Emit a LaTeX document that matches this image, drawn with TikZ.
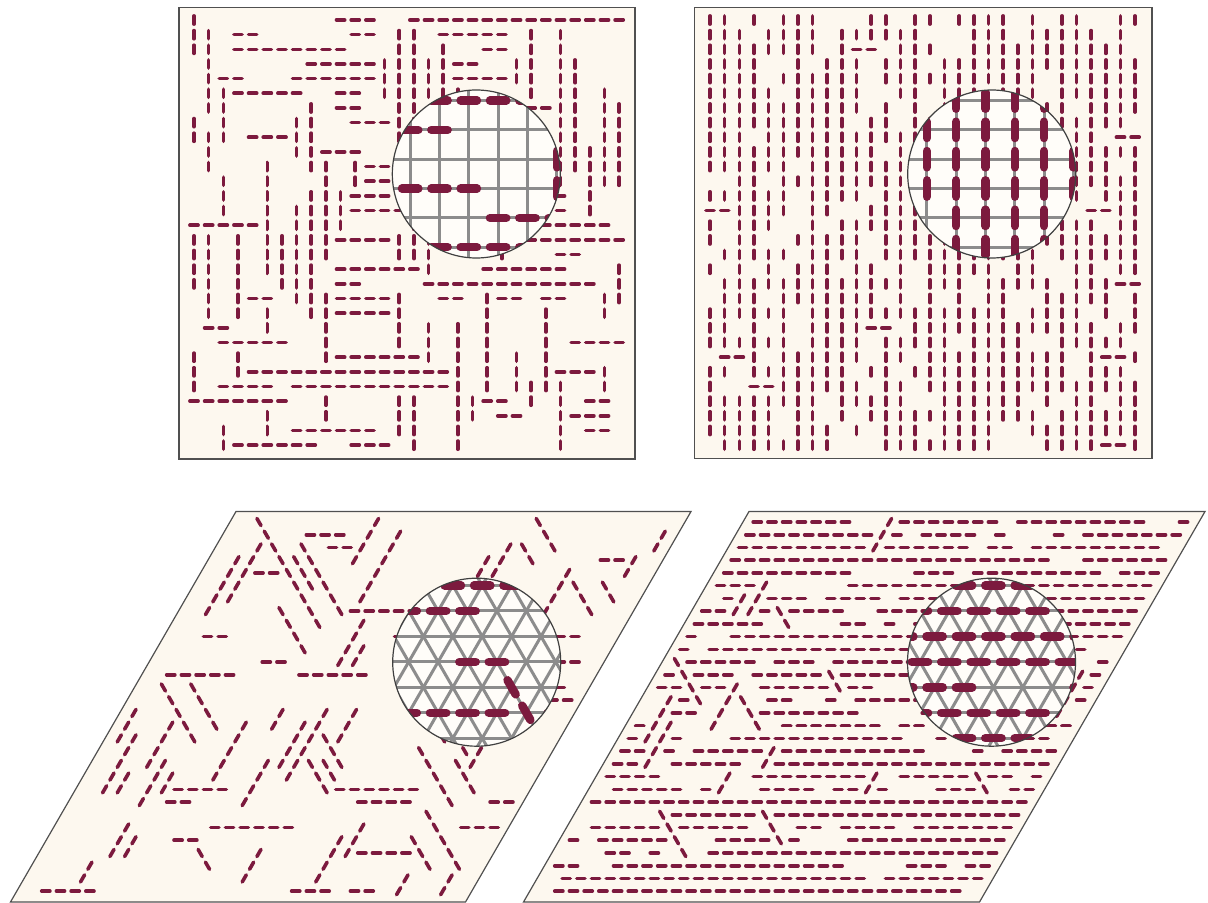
\documentclass[tikz,border=0pt]{standalone}
\definecolor{rod}{RGB}{124,26,62}
\definecolor{panelbg}{RGB}{253,248,239}
\definecolor{insetbg}{RGB}{255,253,249}
\definecolor{gridgray}{RGB}{140,140,140}
\definecolor{framegray}{RGB}{80,80,80}
\tikzset{
  rodline/.style={draw=rod,line width=1.8pt,line cap=round},
  rodthick/.style={draw=rod,line width=4.2pt,line cap=round},
  latline/.style={draw=gridgray,line width=1.5pt},
  panelframe/.style={draw=framegray,line width=0.6pt,fill=panelbg},
  lens/.style={draw=black!75,line width=0.6pt}
}
\makeatletter
\newcount\RSseed \global\RSseed=20231
\newcount\RSa \newcount\RSb
\newcount\RSi \newcount\RSj \newcount\RSx \newcount\RSy
\newcount\RSt \newcount\RSL \newcount\RSd \newcount\RSdi \newcount\RSdj
\newcount\RSk \newcount\RSr \newcount\RSs
\newif\ifRSok
\def\RSN{30}
\def\RSNm{29}
\def\RSnext{%
  \RSa=\RSseed \divide\RSa by 127773\relax
  \RSb=\RSa \multiply\RSb by -127773\relax
  \advance\RSb by \RSseed
  \multiply\RSb by 16807\relax
  \multiply\RSa by 2836\relax
  \advance\RSb by -\RSa
  \ifnum\RSb<1 \advance\RSb by 2147483647\relax\fi
  \global\RSseed=\RSb}
\def\RSrand#1#2{\RSnext #2=\RSseed \divide#2 by #1\relax \multiply#2 by -#1\relax \advance#2 by \RSseed}
\def\RSsetdir{%
  \ifcase\RSd\or \RSdi=1 \RSdj=0 \or \RSdi=0 \RSdj=1 \else \RSdi=1 \RSdj=1 \fi}
\def\RStry#1{%
  \begingroup
  \RSsetdir
  \RSoktrue
  \RSx=\RSi \RSy=\RSj \RSt=0
  \loop
    \ifnum\RSx>\RSNm\relax \RSokfalse\fi
    \ifnum\RSy>\RSNm\relax \RSokfalse\fi
    \ifRSok
      \expandafter\ifx\csname RS@#1@\the\RSx @\the\RSy\endcsname\relax\else\RSokfalse\fi
    \fi
    \advance\RSt by 1
    \advance\RSx by \RSdi \advance\RSy by \RSdj
  \ifnum\RSt<\RSL\repeat
  \ifRSok
    \RSx=\RSi \RSy=\RSj \RSt=0
    \loop
      \expandafter\xdef\csname RS@#1@\the\RSx @\the\RSy\endcsname{\the\RSd}%
      \advance\RSt by 1
      \advance\RSx by \RSdi \advance\RSy by \RSdj
    \ifnum\RSt<\RSL\repeat
  \fi
  \endgroup}
\def\RSrsa#1#2#3#4#5#6{%
  \RSk=#2\relax
  \loop
    \RSrand{\RSN}{\RSi}\RSrand{\RSN}{\RSj}%
    \RSrand{#3}{\RSd}\advance\RSd by #4\relax
    \RSrand{#6}{\RSL}\advance\RSL by #5\relax
    \RStry{#1}%
    \advance\RSk by -1
  \ifnum\RSk>0 \repeat}
\def\RSfill#1#2#3#4{%
  \RSr=0
  \loop
    {\RSs=0 \RSt=0
     \loop
       \ifnum#2=1 \RSx=\RSt \RSy=\RSr \else \RSx=\RSr \RSy=\RSt \fi
       \expandafter\ifx\csname RS@#1@\the\RSx @\the\RSy\endcsname\relax
         \RSrand{1000}{\RSL}%
         \ifnum\RSs=1 \RSd=#3\relax \else \RSd=#4\relax \fi
         \ifnum\RSL<\RSd
           \expandafter\xdef\csname RS@#1@\the\RSx @\the\RSy\endcsname{#2}%
           \RSs=1
         \else \RSs=0 \fi
       \else \RSs=0 \fi
       \advance\RSt by 1
     \ifnum\RSt<\RSN\relax\repeat}%
    \advance\RSr by 1
  \ifnum\RSr<\RSN\relax\repeat}
% own loop for drawing
\def\RSloop#1\RSrepeat{\def\RSbody{#1}\RSiterate}
\def\RSiterate{\RSbody\let\RSnextstep\RSiterate\else\let\RSnextstep\relax\fi\RSnextstep}
\let\RSrepeat\fi
\def\RSgeom#1#2#3#4#5#6#7{\def\RSXo{#1}\def\RSYo{#2}\def\RSax{#3}\def\RSbx{#4}\def\RSby{#5}\def\RSCx{#6}\def\RSCy{#7}}
\def\RSdirsSq{\def\RSuxA{4.1}\def\RSuyA{0}\def\RSuxB{0}\def\RSuyB{4.1}\def\RSuxC{0}\def\RSuyC{0}}
\def\RSdirsTri{\def\RSuxA{4.1}\def\RSuyA{0}\def\RSuxB{-2.05}\def\RSuyB{3.5507}\def\RSuxC{2.05}\def\RSuyC{3.5507}}
\def\RSdash#1#2{%
  \pgfmathsetmacro\RSpx{\RSXo+\the\RSt*\RSax+\the\RSr*(\RSbx)}%
  \pgfmathsetmacro\RSpy{\RSYo+\the\RSr*\RSby}%
  \ifcase\RSd\or\let\RSux\RSuxA\let\RSuy\RSuyA\or\let\RSux\RSuxB\let\RSuy\RSuyB\else\let\RSux\RSuxC\let\RSuy\RSuyC\fi
  \RSoktrue
  \ifnum#2=1
    \dimen@=\RSpx pt\advance\dimen@ by -\RSCx pt
    \ifdim\dimen@>50pt \RSokfalse\fi
    \ifdim\dimen@<-50pt \RSokfalse\fi
    \dimen@=\RSpy pt\advance\dimen@ by -\RSCy pt
    \ifdim\dimen@>50pt \RSokfalse\fi
    \ifdim\dimen@<-50pt \RSokfalse\fi
  \fi
  \ifRSok
    \pgfmathsetmacro\RSxa{\RSpx-(\RSux)}\pgfmathsetmacro\RSxb{\RSpx+(\RSux)}%
    \pgfmathsetmacro\RSya{\RSpy-(\RSuy)}\pgfmathsetmacro\RSyb{\RSpy+(\RSuy)}%
    \path[#1] (\RSxa,\RSya) -- (\RSxb,\RSyb);
  \fi}
\def\RSdraw#1#2#3{%
  \RSr=0
  \RSloop
    {\RSt=0
     \RSloop
       \expandafter\ifx\csname RS@#1@\the\RSt @\the\RSr\endcsname\relax\else
         \RSd=\csname RS@#1@\the\RSt @\the\RSr\endcsname\relax
         \RSdash{#2}{#3}%
       \fi
       \advance\RSt by 1
     \ifnum\RSt<\RSN\relax\RSrepeat}%
    \advance\RSr by 1
  \ifnum\RSr<\RSN\relax\RSrepeat}
\newcommand\RSinsetSq[2]{%
  \begin{scope}
    \clip (\RSCx,\RSCy) circle [radius=#2];
    \fill[insetbg] (\RSCx,\RSCy) circle [radius=#2];
    \begin{scope}[shift={(\RSCx,\RSCy)},scale=2,shift={(-\RSCx,-\RSCy)}]
      \foreach \k in {-3,...,33}{%
        \draw[latline] ({\RSXo+(\k)*\RSax},{\RSYo-3*\RSby}) -- ({\RSXo+(\k)*\RSax},{\RSYo+33*\RSby});
        \draw[latline] ({\RSXo-3*\RSax},{\RSYo+(\k)*\RSby}) -- ({\RSXo+33*\RSax},{\RSYo+(\k)*\RSby});
      }
      \RSdraw{#1}{rodthick}{1}
    \end{scope}
  \end{scope}
  \draw[lens] (\RSCx,\RSCy) circle [radius=#2];}
\newcommand\RSinsetTri[2]{%
  \begin{scope}
    \clip (\RSCx,\RSCy) circle [radius=#2];
    \fill[insetbg] (\RSCx,\RSCy) circle [radius=#2];
    \begin{scope}[shift={(\RSCx,\RSCy)},scale=2,shift={(-\RSCx,-\RSCy)}]
      \foreach \k in {-3,...,33}{%
        \draw[latline] ({\RSXo-10*\RSax+(\k)*(\RSbx)},{\RSYo+(\k)*\RSby}) -- ({\RSXo+40*\RSax+(\k)*(\RSbx)},{\RSYo+(\k)*\RSby});
      }
      \foreach \k in {-40,...,40}{%
        \draw[latline] ({\RSXo+(\k)*\RSax-5*(\RSbx)},{\RSYo-5*\RSby}) -- ({\RSXo+(\k)*\RSax+35*(\RSbx)},{\RSYo+35*\RSby});
        \draw[latline] ({\RSXo+(\k)*\RSax-5*(\RSax+(\RSbx))},{\RSYo-5*\RSby}) -- ({\RSXo+(\k)*\RSax+35*(\RSax+(\RSbx))},{\RSYo+35*\RSby});
      }
      \RSdraw{#1}{rodthick}{1}
    \end{scope}
  \end{scope}
  \draw[lens] (\RSCx,\RSCy) circle [radius=#2];}
% ---- generate configurations
\RSrsa{A}{750}{2}{1}{2}{7}
\RSrsa{B}{10}{1}{1}{2}{1}
\RSfill{B}{2}{860}{680}
\RSrsa{C}{220}{3}{1}{2}{5}
\RSrsa{D}{20}{2}{2}{2}{3}
\RSfill{D}{1}{910}{600}
\makeatother
\begin{document}
\begin{tikzpicture}[x=0.5pt,y=-0.5pt]
\useasboundingbox (0,0) rectangle (1208,903);
% panel A: square lattice, isotropic
\path[panelframe] (179,7.5) rectangle (635,459);
\RSgeom{194}{20}{14.66}{0}{14.66}{476.3}{174}\RSdirsSq
\RSdraw{A}{rodline}{0}
\RSinsetSq{A}{84}
% panel B: square lattice, nematic
\path[panelframe] (694.5,7.5) rectangle (1152,458.5);
\RSgeom{710}{20}{14.66}{0}{14.66}{991.7}{174}\RSdirsSq
\RSdraw{B}{rodline}{0}
\RSinsetSq{B}{84}
% panel C: triangular lattice, isotropic
\path[panelframe] (236,511.5) -- (691,511.5) -- (465.5,902) -- (10.5,902) -- cycle;
\RSgeom{244.25}{522}{14.7}{-7.35}{12.73}{476.7}{662.2}\RSdirsTri
\RSdraw{C}{rodline}{0}
\RSinsetTri{C}{84}
% panel D: triangular lattice, nematic
\path[panelframe] (749,511.5) -- (1205,511.5) -- (979.5,902) -- (523.5,902) -- cycle;
\RSgeom{757.25}{522}{14.7}{-7.35}{12.73}{991.5}{662.2}\RSdirsTri
\RSdraw{D}{rodline}{0}
\RSinsetTri{D}{84}
\end{tikzpicture}
\end{document}
